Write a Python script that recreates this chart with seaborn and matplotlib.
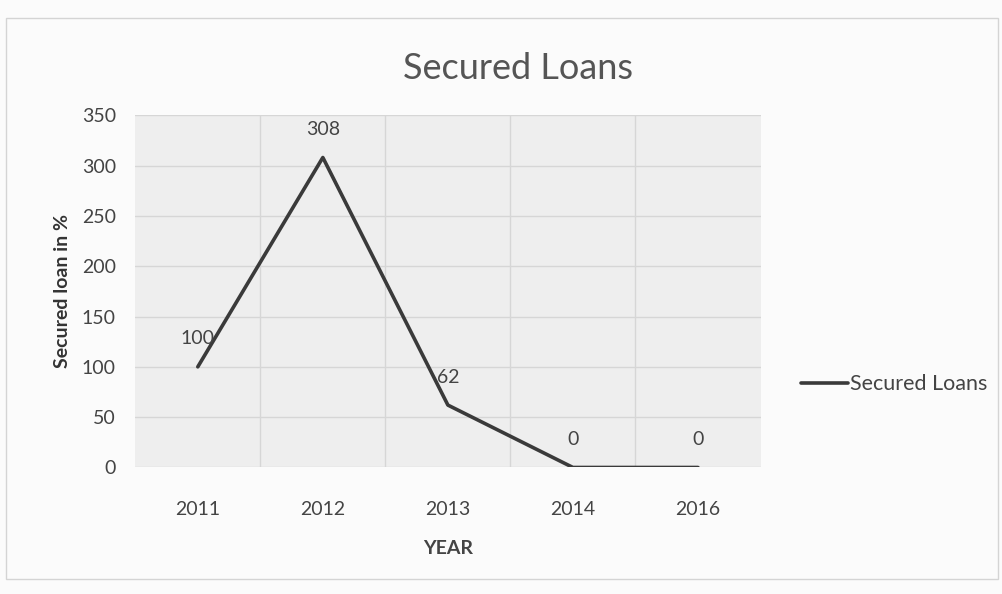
import matplotlib
matplotlib.use("Agg")
import matplotlib.pyplot as plt
import seaborn as sns
import pandas as pd
from matplotlib.patches import Rectangle

years = ["2011", "2012", "2013", "2014", "2016"]
secured = [100, 308, 62, 0, 0]
yticks = [0, 50, 100, 150, 200, 250, 300, 350]

sns.set_theme(style="whitegrid")
plt.rcParams["font.family"] = ["Lato", "DejaVu Sans"]

df = pd.DataFrame({"YEAR": years, "Secured Loans": secured})

fig = plt.figure(figsize=(10.02, 5.94), dpi=100)
fig.patch.set_facecolor("#fbfbfb")
ax = fig.add_axes([0.135, 0.213, 0.624, 0.593])
ax.set_facecolor("#eeeeee")

sns.lineplot(data=df, x="YEAR", y="Secured Loans", ax=ax, color="#3a3a3a",
             linewidth=2.6, label="Secured Loans", sort=False)

ax.set_xlim(-0.5, len(years) - 0.5)
ax.set_ylim(0, 350)
ax.set_yticks(yticks)
ax.set_xticks(range(len(years)))
ax.set_xticklabels(years)
ax.tick_params(axis="both", labelsize=14, colors="#444444", length=0)
ax.tick_params(axis="x", pad=24)
ax.tick_params(axis="y", pad=14)

ax.grid(False)
for y in yticks:
    ax.axhline(y, color="#d6d6d6", linewidth=1.0, zorder=0)
for xb in [i + 0.5 for i in range(len(years) - 1)]:
    ax.axvline(xb, color="#d6d6d6", linewidth=1.0, zorder=0)
for s in ax.spines.values():
    s.set_visible(False)

ax.set_xlabel("YEAR", fontsize=14, fontweight="bold", color="#444444", labelpad=16)
ax.set_ylabel("Secured loan in %", fontsize=14, fontweight="bold", color="#333333", labelpad=8)

for i, v in enumerate(secured):
    ax.annotate(str(v), (i, v), xytext=(0, 14), textcoords="offset points",
                ha="center", va="bottom", fontsize=14, color="#444444")

fig.text(0.517, 0.885, "Secured Loans", ha="center", va="center",
         fontsize=26, color="#555555")

ax.get_legend().remove()
fig.legend(loc="center left", bbox_to_anchor=(0.78, 0.353), frameon=False,
           fontsize=15.5, handlelength=2.2, handletextpad=0.1,
           labelcolor="#444444")

fig.add_artist(Rectangle((0.006, 0.025), 0.99, 0.945, transform=fig.transFigure,
                         fill=False, edgecolor="#d4d4d4", linewidth=1.0))

fig.savefig("out.png", dpi=100, facecolor=fig.get_facecolor())
